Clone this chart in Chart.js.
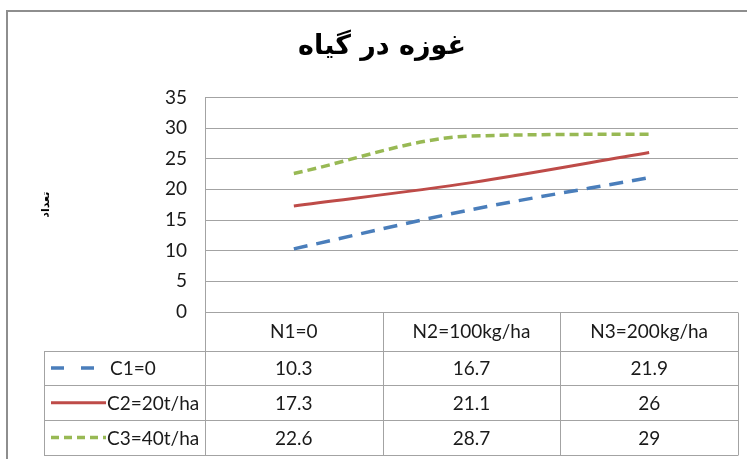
<!DOCTYPE html>
<html>
<head>
<meta charset="utf-8">
<script src="https://cdn.jsdelivr.net/npm/chart.js@4"></script>
<style>
  html, body { margin: 0; padding: 0; background: #fff; }
</style>
</head>
<body>
<canvas id="boll_chart_canvas" width="747" height="459"></canvas>
<script>
// data
const categories = ['N1=0', 'N2=100kg/ha', 'N3=200kg/ha']
const series_names = ['C1=0', 'C2=20t/ha', 'C3=40t/ha']
const c1_values = [10.3, 16.7, 21.9]
const c2_values = [17.3, 21.1, 26]
const c3_values = [22.6, 28.7, 29]
const y_ticks = [0, 5, 10, 15, 20, 25, 30, 35]

const chart_title = 'غوزه در گیاه'
const y_title = 'تعداد'

const LINE_COLORS = {
  blue: 'rgb(74, 126, 187)',
  red: 'rgb(190, 75, 72)',
  green: 'rgb(152, 185, 84)',
}
const GRID = '#a3a3a3'
const TEXT_FONT = '19px Lato, "Open Sans", sans-serif'

// legend keys in the table (Excel draws them a bit differently)
const key_dash = [[13, 17], [], [8, 5]]

// frame + data table under the plot
const frame_and_table = {
  id: 'frame_and_table',
  beforeDraw(chart) {
    const ctx = chart.ctx
    ctx.save()
    ctx.fillStyle = '#fff'
    ctx.fillRect(0, 0, chart.width, chart.height)
    ctx.strokeStyle = '#8e8e8e'
    ctx.lineWidth = 2
    ctx.beginPath()
    ctx.moveTo(7, chart.height)
    ctx.lineTo(7, 11)
    ctx.lineTo(chart.width, 11)
    ctx.stroke()
    ctx.restore()
  },
  afterDraw(chart) {
    const ctx = chart.ctx
    const area = chart.chartArea
    const x = chart.scales.x
    const half = (x.getPixelForValue(1) - x.getPixelForValue(0)) / 2
    const top = area.bottom
    const head_h = 38.5
    const row_h = 34.8
    const key_left = 44
    const bottom = top + head_h + row_h * series_names.length
    const px = (v) => Math.round(v) + 0.5

    ctx.save()
    ctx.strokeStyle = GRID
    ctx.lineWidth = 1
    ctx.beginPath()
    // horizontal lines
    ctx.moveTo(area.left, px(top))
    ctx.lineTo(area.right, px(top))
    for (let r = 0; r <= series_names.length; r++) {
      const y = px(top + head_h + r * row_h)
      ctx.moveTo(key_left, y)
      ctx.lineTo(area.right, y)
    }
    // vertical lines
    ctx.moveTo(px(key_left), px(top + head_h))
    ctx.lineTo(px(key_left), px(bottom))
    ctx.moveTo(px(area.left), px(top))
    ctx.lineTo(px(area.left), px(bottom))
    for (let i = 0; i < categories.length; i++) {
      const xr = px(x.getPixelForValue(i) + half)
      ctx.moveTo(xr, px(top))
      ctx.lineTo(xr, px(bottom))
    }
    ctx.stroke()

    ctx.fillStyle = '#1a1a1a'
    ctx.font = TEXT_FONT
    ctx.textBaseline = 'middle'
    ctx.textAlign = 'center'
    for (let i = 0; i < categories.length; i++) {
      ctx.fillText(categories[i], x.getPixelForValue(i), top + head_h / 2 + 1)
    }

    chart.data.datasets.forEach((ds, r) => {
      const cy = top + head_h + r * row_h + row_h / 2 + 1
      ctx.textAlign = 'center'
      ds.data.forEach((v, i) => {
        ctx.fillText(String(v), x.getPixelForValue(i), cy)
      })
      // legend key
      ctx.save()
      ctx.strokeStyle = ds.borderColor
      ctx.lineWidth = ds.borderWidth
      ctx.setLineDash(key_dash[r])
      ctx.beginPath()
      ctx.moveTo(key_left + 7, cy - 1)
      ctx.lineTo(key_left + (r == 0 ? 50 : 62), cy - 1)
      ctx.stroke()
      ctx.restore()
      ctx.textAlign = 'left'
      ctx.fillText(ds.label, key_left + (r == 0 ? 66 : 63), cy)
    })
    ctx.restore()
  },
}

let boll_chart_canvas = document.getElementById('boll_chart_canvas')
let config = {
  type: 'line',
  data: {
    labels: categories,
    datasets: [
      {
        label: series_names[0],
        data: c1_values,
        borderColor: LINE_COLORS.blue,
        borderWidth: 3.5,
        borderDash: [14, 9],
      },
      {
        label: series_names[1],
        data: c2_values,
        borderColor: LINE_COLORS.red,
        borderWidth: 3,
      },
      {
        label: series_names[2],
        data: c3_values,
        borderColor: LINE_COLORS.green,
        borderWidth: 3.5,
        borderDash: [9, 5],
      },
    ],
  },
  options: {
    responsive: false,
    animation: false,
    cubicInterpolationMode: 'monotone',
    pointRadius: 0,
    pointHoverRadius: 0,
    layout: {
      padding: { top: 0, left: 26, right: 9, bottom: 147 },
    },
    plugins: {
      legend: { display: false },
      tooltip: { enabled: false },
      title: {
        display: true,
        text: chart_title,
        color: '#000',
        font: { family: '"DejaVu Sans", sans-serif', size: 27, weight: 'bold' },
        padding: { top: 31, bottom: 34 },
      },
    },
    scales: {
      x: {
        type: 'category',
        offset: true,
        display: false,
      },
      y: {
        min: y_ticks[0],
        max: y_ticks[y_ticks.length - 1],
        afterFit: (scale) => {
          scale.width = 179
        },
        afterBuildTicks: (scale) => {
          scale.ticks = y_ticks.map((v) => ({ value: v }))
        },
        ticks: {
          color: '#1a1a1a',
          font: { family: 'Lato, "Open Sans", sans-serif', size: 19 },
          padding: 18,
        },
        grid: {
          color: GRID,
          drawTicks: false,
        },
        border: { color: GRID },
        title: {
          display: true,
          text: y_title,
          color: '#000',
          font: { family: '"DejaVu Sans", sans-serif', size: 11, weight: 'bold' },
          padding: { top: 14, bottom: 0 },
        },
      },
    },
  },
  plugins: [frame_and_table],
}

let boll_chart = new Chart(boll_chart_canvas, config)
</script>
</body>
</html>
